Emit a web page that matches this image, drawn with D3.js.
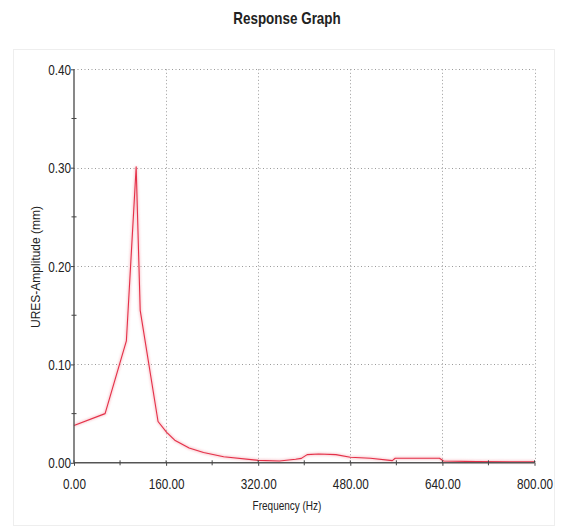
<!DOCTYPE html>
<html>
<head>
<meta charset="utf-8">
<script src="https://cdn.jsdelivr.net/npm/d3@7"></script>
<style>
  html, body { margin: 0; padding: 0; background: #fff; }
  svg { display: block; }
  .lbl { font-family: "Liberation Sans", Arial, sans-serif; fill: #222; }
</style>
</head>
<body>
<svg id="chart" width="561" height="531"></svg>
<script>
// Frequency response: URES amplitude vs. excitation frequency
const frequencyHz = [0, 54, 91, 108, 115, 146, 161, 175, 200, 225, 260, 320, 357, 385, 395, 405, 425, 455, 480, 515, 553, 558, 635, 642, 700, 800];
const amplitudeMm = [0.038, 0.050, 0.124, 0.301, 0.155, 0.042, 0.031, 0.023, 0.015, 0.0105, 0.0062, 0.0025, 0.0018, 0.0036, 0.0045, 0.0083, 0.009, 0.0083, 0.0056, 0.0046, 0.0022, 0.0046, 0.0046, 0.0018, 0.0012, 0.0010];

const xMajorTicks = [0, 160, 320, 480, 640, 800];
const xMinorTicks = [80, 240, 400, 560, 720];
const yMajorTicks = [0, 0.1, 0.2, 0.3, 0.4];
const yMinorTicks = [0.05, 0.15, 0.25, 0.35];

const chartTitle = "Response Graph";
const xTitle = "Frequency (Hz)";
const yTitle = "URES-Amplitude (mm)";

const svg = d3.select("#chart");
const plot = { left: 74, right: 534.5, top: 69.3, bottom: 462.8 };
// condensed lettering: glyphs squeezed horizontally
const NARROW = 0.84;

const x = d3.scaleLinear().domain([0, 800]).range([plot.left, plot.right]);
const y = d3.scaleLinear().domain([0, 0.4]).range([plot.bottom, plot.top]);

// faint outer panel
svg.append("rect")
  .attr("x", 13.5).attr("y", 49.5).attr("width", 541).attr("height", 476)
  .attr("fill", "#fff").attr("stroke", "#eeeeee").attr("stroke-width", 1);

// title
svg.append("text").attr("class", "lbl")
  .attr("transform", `translate(287,24) scale(${NARROW},1)`)
  .attr("text-anchor", "middle")
  .attr("font-size", 16).attr("font-weight", "bold")
  .text(chartTitle);

// dotted grid
const grid = svg.append("g")
  .attr("stroke", "#9a9a9a").attr("stroke-width", 1)
  .attr("stroke-dasharray", "1,2.5");
grid.selectAll("line.h").data(yMajorTicks.filter(d => d > 0)).join("line")
  .attr("x1", plot.left).attr("x2", plot.right)
  .attr("y1", d => Math.round(y(d)) + 0.5).attr("y2", d => Math.round(y(d)) + 0.5);
grid.selectAll("line.v").data(xMajorTicks.filter(d => d > 0)).join("line")
  .attr("y1", plot.top).attr("y2", plot.bottom)
  .attr("x1", d => Math.round(x(d)) + 0.5).attr("x2", d => Math.round(x(d)) + 0.5);

// response curve with a soft halo
const line = d3.line().x((d, i) => x(frequencyHz[i])).y(d => y(d));
const halo = svg.append("defs").append("filter").attr("id", "soft")
  .attr("x", "-5%").attr("y", "-5%").attr("width", "110%").attr("height", "110%");
halo.append("feGaussianBlur").attr("stdDeviation", 1.2);
svg.append("path").datum(amplitudeMm)
  .attr("d", line).attr("fill", "none")
  .attr("stroke", "#f4a0aa").attr("stroke-width", 3).attr("opacity", 0.5)
  .attr("filter", "url(#soft)");
svg.append("path").datum(amplitudeMm)
  .attr("d", line).attr("fill", "none")
  .attr("stroke", "#e43048").attr("stroke-width", 1.1)
  .attr("stroke-linejoin", "round");

// axes
const yAxis = svg.append("g").attr("transform", `translate(${plot.left},0)`)
  .call(d3.axisLeft(y).tickValues(yMajorTicks).tickSize(3).tickFormat(d3.format(".2f")));
const xAxis = svg.append("g").attr("transform", `translate(0,${plot.bottom})`)
  .call(d3.axisBottom(x).tickValues(xMajorTicks).tickSize(3).tickFormat(d3.format(".2f")));

[xAxis, yAxis].forEach(g => {
  g.select(".domain").attr("stroke", "#555").attr("stroke-width", 1.4);
  g.selectAll(".tick line").attr("stroke", "#444").attr("stroke-width", 1);
  g.selectAll(".tick text").attr("class", "lbl").attr("font-size", 14).attr("fill", "#222");
});
yAxis.select(".domain").attr("d", `M0,${plot.bottom}V${plot.top}`);
xAxis.select(".domain").attr("d", `M${plot.left},0H${plot.right}`);
yAxis.selectAll(".tick text")
  .attr("x", null).attr("dy", "0.36em")
  .attr("transform", `translate(-3,0) scale(${NARROW},1)`);
xAxis.selectAll(".tick text")
  .attr("y", 16).attr("dy", "0.75em")
  .attr("transform", `scale(${NARROW},1)`);

// minor ticks crossing the axes
svg.append("g").selectAll("line").data(yMinorTicks).join("line")
  .attr("x1", plot.left - 2.5).attr("x2", plot.left + 2.5)
  .attr("y1", d => y(d)).attr("y2", d => y(d))
  .attr("stroke", "#444");
svg.append("g").selectAll("line").data(xMinorTicks).join("line")
  .attr("y1", plot.bottom - 2.5).attr("y2", plot.bottom + 2.5)
  .attr("x1", d => x(d)).attr("x2", d => x(d))
  .attr("stroke", "#444");
svg.append("g").selectAll("line").data(xMajorTicks).join("line")
  .attr("y1", plot.bottom - 2.5).attr("y2", plot.bottom)
  .attr("x1", d => x(d)).attr("x2", d => x(d))
  .attr("stroke", "#444");

// axis titles
svg.append("text").attr("class", "lbl")
  .attr("transform", `translate(287,510) scale(0.8,1)`)
  .attr("text-anchor", "middle").attr("font-size", 12.5)
  .text(xTitle);
svg.append("text").attr("class", "lbl")
  .attr("transform", `translate(40,267) rotate(-90) scale(0.96,1)`)
  .attr("text-anchor", "middle").attr("font-size", 12.5)
  .text(yTitle);
</script>
</body>
</html>
